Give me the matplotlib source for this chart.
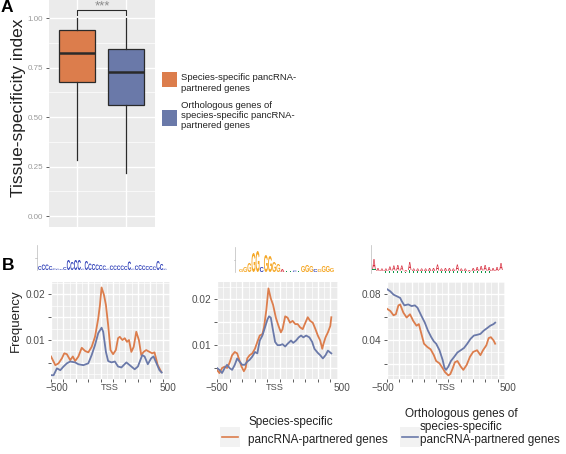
import matplotlib
matplotlib.use("Agg")
import matplotlib.pyplot as plt
from matplotlib.textpath import TextPath
from matplotlib.patches import PathPatch, Rectangle
from matplotlib.font_manager import FontProperties
from matplotlib.transforms import Affine2D

plt.rcParams['font.family'] = ['Liberation Sans', 'DejaVu Sans']

W, H = 566, 454
orange = '#DC7D4C'
blue = '#6A79A9'
panel_bg = '#EBEBEB'

# ---- panel A: tissue specificity boxplot stats
q1 = [0.677, 0.560]
med = [0.825, 0.729]
q3 = [0.940, 0.847]
whis_lo = [0.283, 0.219]
whis_hi = [1.00, 1.00]
legA_labels = ['Species-specific pancRNA-\npartnered genes',
               'Orthologous genes of\nspecies-specific pancRNA-\npartnered genes']

# ---- panel B: frequency around TSS (orange = species-specific, blue = orthologous)
x1_or = [-500, -465, -439, -412, -393, -372, -345, -324, -305, -279, -252, -225, -199, -172,
         -145, -119, -105, -92, -73, -57, -39, -20, 1, 23, 41, 55, 76, 95, 113, 129, 148,
         167, 188, 209, 228, 247, 268, 295, 316, 335, 361, 388]
y1_or = [0.0064, 0.0045, 0.0049, 0.0060, 0.0071, 0.0069, 0.0056, 0.0064, 0.0054, 0.0064,
         0.0083, 0.0076, 0.0073, 0.0085, 0.0107, 0.0147, 0.0177, 0.0215, 0.0199, 0.0177,
         0.0133, 0.0078, 0.0069, 0.0078, 0.0104, 0.0107, 0.0100, 0.0104, 0.0096, 0.0100,
         0.0074, 0.0085, 0.0118, 0.0100, 0.0067, 0.0074, 0.0078, 0.0074, 0.0071, 0.0073,
         0.0045, 0.0031]
x1_bl = [-500, -479, -452, -425, -399, -372, -345, -305, -279, -239, -199, -172, -145, -119,
         -92, -79, -57, -39, -12, 15, 41, 68, 108, 135, 175, 201, 236, 255, 281, 308, 327,
         348, 375, 393]
y1_bl = [0.0023, 0.0023, 0.0038, 0.0034, 0.0042, 0.0049, 0.0053, 0.0051, 0.0047, 0.0045,
         0.0049, 0.0067, 0.0089, 0.0115, 0.0127, 0.0118, 0.0074, 0.0054, 0.0051, 0.0053,
         0.0042, 0.0040, 0.0051, 0.0045, 0.0036, 0.0042, 0.0067, 0.0064, 0.0047, 0.0060,
         0.0064, 0.0051, 0.0034, 0.0029]

x2_or = [-500, -481, -460, -439, -420, -401, -380, -359, -340, -327, -305, -287, -273, -260,
         -241, -220, -199, -180, -161, -140, -127, -108, -92, -73, -55, -33, -12, 7, 20, 41,
         60, 79, 100, 121, 140, 159, 180, 201, 220, 239, 260, 281, 300, 319, 335, 345, 361,
         380, 399, 407]
y2_or = [0.0045, 0.0038, 0.0049, 0.0052, 0.0049, 0.0060, 0.0077, 0.0084, 0.0081, 0.0070,
         0.0052, 0.0042, 0.0049, 0.0070, 0.0077, 0.0081, 0.0091, 0.0106, 0.0120, 0.0123,
         0.0138, 0.0177, 0.0223, 0.0201, 0.0187, 0.0159, 0.0141, 0.0127, 0.0134, 0.0162,
         0.0159, 0.0148, 0.0152, 0.0145, 0.0145, 0.0138, 0.0134, 0.0148, 0.0160, 0.0152,
         0.0148, 0.0134, 0.0120, 0.0109, 0.0091, 0.0102, 0.0116, 0.0127, 0.0141, 0.0160]
x2_bl = [-500, -481, -460, -439, -420, -401, -380, -359, -340, -321, -300, -279, -260, -241,
         -220, -199, -180, -161, -140, -119, -100, -87, -73, -60, -39, -20, -1, 20, 41, 60,
         87, 105, 127, 148, 167, 185, 207, 233, 255, 273, 300, 319, 340, 361, 380, 407]
y2_bl = [0.0049, 0.0045, 0.0038, 0.0049, 0.0056, 0.0049, 0.0045, 0.0056, 0.0070, 0.0063,
         0.0056, 0.0056, 0.0063, 0.0067, 0.0074, 0.0084, 0.0081, 0.0109, 0.0120, 0.0138,
         0.0155, 0.0162, 0.0159, 0.0138, 0.0106, 0.0099, 0.0099, 0.0101, 0.0096, 0.0102,
         0.0109, 0.0104, 0.0109, 0.0116, 0.0120, 0.0116, 0.0120, 0.0116, 0.0106, 0.0091,
         0.0082, 0.0077, 0.0070, 0.0077, 0.0087, 0.0081]

x3_or = [-500, -473, -447, -428, -407, -393, -367, -340, -313, -287, -260, -241, -220, -199,
         -172, -145, -119, -100, -73, -47, -28, -1, 15, 33, 52, 73, 100, 121, 148, 175, 201,
         233, 260, 281, 308, 327, 345, 367, 380]
y3_or = [0.0671, 0.0652, 0.0615, 0.0624, 0.0700, 0.0708, 0.0638, 0.0596, 0.0624, 0.0568,
         0.0526, 0.0540, 0.0456, 0.0372, 0.0344, 0.0324, 0.0274, 0.0224, 0.0204, 0.0162,
         0.0129, 0.0101, 0.0112, 0.0157, 0.0213, 0.0224, 0.0176, 0.0148, 0.0190, 0.0260,
         0.0302, 0.0316, 0.0274, 0.0316, 0.0358, 0.0420, 0.0428, 0.0400, 0.0372]
x3_bl = [-500, -473, -447, -420, -393, -380, -359, -327, -300, -273, -252, -220, -193, -167,
         -140, -119, -100, -73, -47, -33, -20, -1, 20, 47, 73, 100, 127, 153, 180, 207, 233,
         260, 287, 313, 340, 367, 380]
y3_bl = [0.0839, 0.0820, 0.0792, 0.0778, 0.0764, 0.0736, 0.0700, 0.0708, 0.0694, 0.0700,
         0.0680, 0.0610, 0.0554, 0.0484, 0.0428, 0.0392, 0.0372, 0.0316, 0.0232, 0.0168,
         0.0148, 0.0176, 0.0224, 0.0260, 0.0297, 0.0316, 0.0336, 0.0372, 0.0414, 0.0442,
         0.0448, 0.0456, 0.0484, 0.0504, 0.0526, 0.0540, 0.0552]

# ---- motif logos above the panels: (letter, height in px) per column
logo1 = [('C', 4), ('C', 5.5), ('C', 5.5), ('C', 4), ('C', 1.5), ('C', 1.2), ('C', 1), ('C', 3),
         ('C', 10), ('C', 8), ('C', 10), ('C', 10), ('C', 1.2), ('C', 9), ('C', 6.5), ('C', 6),
         ('C', 5.5), ('C', 5), ('C', 4.5), ('C', 1.2), ('C', 4.5), ('C', 4.5), ('C', 4.5),
         ('C', 4.5), ('C', 4), ('C', 8.5), ('C', 1.2), ('C', 4.5), ('C', 5), ('C', 4.5),
         ('C', 4), ('C', 4), ('C', 3.5), ('C', 9), ('C', 6), ('C', 1.2)]
logo2 = [('G', 3), ('G', 5), ('G', 9), ('G', 19), ('G', 21), ('C', 5), ('G', 17), ('G', 16),
         ('G', 10), ('G', 8), ('A', 3), ('T', 1.5), ('T', 1.5), ('C', 1.5), ('T', 1.5),
         ('G', 6), ('G', 7), ('G', 6), ('C', 3), ('G', 3), ('G', 6), ('G', 6), ('G', 4)]
logo3_top = [10, 3, 2.5, 2.5, 4, 5, 5.5, 5, 1.5, 8, 2.5, 2.5, 2.5, 2.5, 3, 3, 6, 2.5, 3, 3,
             2.5, 6, 2.5, 2.5, 1.5, 3, 4, 4.5, 5.5, 4, 3, 4, 7]
logo3_bot = [4, 2, 2, 2, 2.5, 2.5, 2.5, 2.5, 1.5, 3, 2, 2, 2, 2, 2, 2, 2.5, 2, 2,
             2, 2, 2.5, 2, 2, 1.5, 2, 2, 2.5, 2.5, 2, 2, 2, 3]
letter_col = {'A': '#D62839', 'C': '#2E3FB8', 'G': '#F5A623', 'T': '#109648'}

fig = plt.figure(figsize=(W / 100, H / 100), dpi=100)


def px_axes(l, t, r, b):
    return fig.add_axes([l / W, 1 - b / H, (r - l) / W, (b - t) / H])


def gg(ax, labcol):
    ax.set_facecolor(panel_bg)
    for s in ax.spines.values():
        s.set_visible(False)
    ax.grid(which='major', color='white', lw=1.0)
    ax.grid(which='minor', color='white', lw=0.5)
    ax.set_axisbelow(True)
    ax.tick_params(which='major', length=2.5, width=0.6, color='#444444',
                   labelsize=6.5, labelcolor=labcol, pad=1.5)
    ax.tick_params(which='minor', length=0)


lay = fig.add_axes([0, 0, 1, 1])
lay.set_xlim(0, W)
lay.set_ylim(H, 0)
lay.axis('off')
lay.set_zorder(5)

# ---------------- panel A
axA = px_axes(48.5, 0, 154.5, 227)
gg(axA, '#9A9A9A')
stats = [dict(med=med[i], q1=q1[i], q3=q3[i], whislo=whis_lo[i], whishi=whis_hi[i], fliers=[])
         for i in range(2)]
bp = axA.bxp(stats, positions=[1, 2], widths=0.75, patch_artist=True, showcaps=False,
             boxprops=dict(lw=0.9, edgecolor='#2A2A2A'),
             whiskerprops=dict(lw=0.9, color='#2A2A2A'),
             medianprops=dict(lw=1.8, color='#2A2A2A'))
for p, c in zip(bp['boxes'], [orange, blue]):
    p.set_facecolor(c)
axA.set_xlim(0.4, 2.6)
axA.set_ylim(-0.0556, 1.0926)
axA.set_xticks([1, 2])
axA.set_xticklabels(['', ''])
axA.tick_params(axis='x', length=0)
axA.set_yticks([0, 0.25, 0.5, 0.75, 1.0])
axA.set_yticklabels(['0.00', '0.25', '0.50', '0.75', '1.00'], fontsize=5.8)
axA.set_yticks([0.125, 0.375, 0.625, 0.875], minor=True)
axA.plot([1, 1, 2, 2], [1.017, 1.042, 1.042, 1.017], color='#2A2A2A', lw=0.8, clip_on=False)
lay.text(102, 0.8, '***', ha='center', va='top', fontsize=9.5, color='#8A8A8A')

lay.text(18.5, 108, 'Tissue-specificity index', rotation=90, ha='center', va='center',
         fontsize=12.5, color='#222222')
lay.text(0.5, 8, 'A', fontsize=12.5, fontweight='bold', va='center', ha='left')

for c, y0 in zip([orange, blue], [71.7, 110]):
    lay.add_patch(Rectangle((161.7, y0), 15.6, 15.6, fc=c, ec='none'))
for y0, lab in zip([73.5, 101], legA_labels):
    lay.text(180.7, y0, lab, fontsize=6.8, va='top', ha='left', linespacing=1.15,
             color='#222222')

# ---------------- panel B
boxes = [(51, 170), (217, 338), (387, 505)]
series = [(x1_or, y1_or, x1_bl, y1_bl), (x2_or, y2_or, x2_bl, y2_bl),
          (x3_or, y3_or, x3_bl, y3_bl)]
ylims = [(0.00147, 0.0227), (0.0029, 0.0237), (0.0070, 0.0889)]
yt = [([0.005, 0.01, 0.015, 0.02], ['', '0.01', '', '0.02']),
      ([0.005, 0.01, 0.015, 0.02], ['', '0.01', '', '0.02']),
      ([0.02, 0.04, 0.06, 0.08], ['', '0.04', '', '0.08'])]
xlabpos = [(56.7, 110, 168), (216.7, 275, 341.7), (383, 446.7, 508.3)]
for (l, r), (xo, yo, xb, yb), yl, (tv, tl), xp in zip(boxes, series, ylims, yt, xlabpos):
    ax = px_axes(l, 282, r, 379)
    gg(ax, '#4D4D4D')
    ax.plot(xo, yo, color=orange, lw=1.3)
    ax.plot(xb, yb, color=blue, lw=1.3)
    ax.set_xlim(-500, 460)
    ax.set_ylim(*yl)
    ax.set_xticks(range(-500, 401, 100))
    ax.set_xticklabels([''] * 10)
    ax.set_xticks(range(-450, 451, 100), minor=True)
    ax.set_yticks(tv)
    ax.set_yticklabels(tl, fontsize=7.2)
    st = tv[1] - tv[0]
    ax.set_yticks([tv[0] - st / 2] + [v + st / 2 for v in tv], minor=True)
    lay.text(xp[0], 388, '\u2212500', fontsize=7.2, ha='center', va='center', color='#4D4D4D')
    lay.text(xp[1], 388, 'TSS', fontsize=6.6, ha='center', va='center', color='#4D4D4D')
    lay.text(xp[2], 388, '500', fontsize=7.2, ha='center', va='center', color='#4D4D4D')

lay.text(16, 321, 'Frequency', rotation=90, ha='center', va='center', fontsize=9.5,
         color='#222222')
lay.text(2, 266, 'B', fontsize=12.5, fontweight='bold', va='center', ha='left')

# ---------------- logos
fp = FontProperties(family='Liberation Sans', weight='bold')


def glyph(ch, x, base, w, h, color):
    tp = TextPath((0, 0), ch, size=10, prop=fp)
    bb = tp.get_extents()
    tr = Affine2D().translate(-bb.x0, -bb.y0).scale(w / bb.width, -h / bb.height).translate(x, base)
    lay.add_patch(PathPatch(tr.transform_path(tp), fc=color, ec='none'))


def logo(cols, x0, x1, base, ax_x, top):
    n = len(cols)
    cw = (x1 - x0) / n
    for i, (ch, h) in enumerate(cols):
        glyph(ch, x0 + i * cw + 0.15, base, cw - 0.3, h, letter_col[ch])
    lay.plot([ax_x, ax_x], [top, base], color='#BBBBBB', lw=0.5)
    lay.plot([ax_x - 1.2, ax_x], [(top + base) / 2] * 2, color='#BBBBBB', lw=0.5)


logo(logo1, 38, 167, 270, 36.5, 245)
logo(logo2, 239, 334, 272, 235, 247)
n3 = len(logo3_top)
cw3 = (503 - 372) / n3
for i in range(n3):
    glyph('T', 372 + i * cw3 + 0.3, 273, cw3 - 0.6, logo3_bot[i], letter_col['T'])
    glyph('A', 372 + i * cw3 + 0.3, 273 - logo3_bot[i], cw3 - 0.6, logo3_top[i], letter_col['A'])
lay.plot([370.5, 370.5], [245, 273], color='#BBBBBB', lw=0.5)

# ---------------- bottom legend
for kx, c in zip([220, 400], [orange, blue]):
    lay.add_patch(Rectangle((kx, 427), 20, 20, fc='#F2F2F2', ec='none'))
    lay.plot([kx + 2, kx + 18], [437, 437], color=c, lw=1.2)
lay.text(248.3, 421.7, 'Species-specific', fontsize=8.5, va='center', color='#222222')
lay.text(248.3, 440, 'pancRNA-partnered genes', fontsize=8.5, va='center', color='#222222')
lay.text(405, 414, 'Orthologous genes of', fontsize=8.5, va='center', color='#222222')
lay.text(420, 427, 'species-specific', fontsize=8.5, va='center', color='#222222')
lay.text(420, 440, 'pancRNA-partnered genes', fontsize=8.5, va='center', color='#222222')

fig.savefig('out.png', dpi=100)
